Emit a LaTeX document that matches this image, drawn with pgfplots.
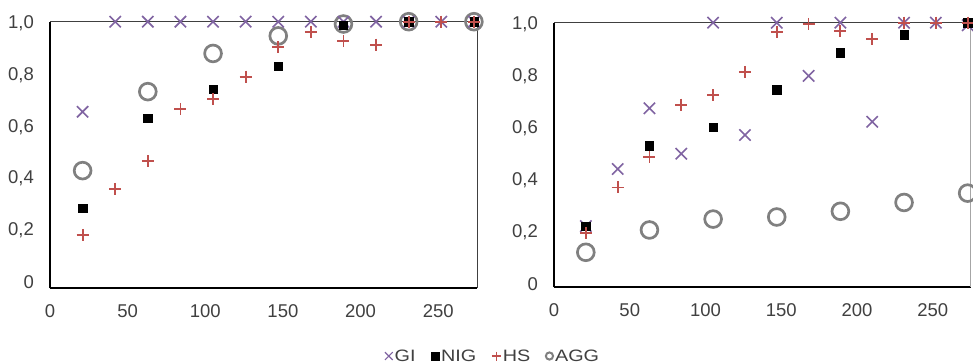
\documentclass[border=0pt]{standalone}
\usepackage{fontspec}
\setmainfont{Liberation Sans}
\usepackage{pgfplots}
\pgfplotsset{compat=1.18}
\definecolor{gi}{HTML}{8064A2}
\definecolor{hs}{HTML}{C0504D}
\definecolor{agg}{HTML}{808080}
\definecolor{txt}{HTML}{404040}

\pgfplotstableread{
x y
21 0.651
42 1.0
63 1.0
84 1.0
105 1.0
126 1.0
147 1.0
168 1.0
189 1.0
210 1.0
231 1.0
252 1.0
273 1.0
}\giA
\pgfplotstableread{
x y
21 0.277
63 0.627
105 0.738
147 0.827
189 0.986
231 1.0
273 1.0
}\nigA
\pgfplotstableread{
x y
21 0.174
42 0.352
63 0.459
84 0.662
105 0.700
126 0.787
147 0.901
168 0.959
189 0.925
210 0.911
231 1.0
252 1.0
273 1.0
}\hsA
\pgfplotstableread{
x y
21 0.423
63 0.729
105 0.877
147 0.945
189 0.991
231 1.0
273 1.0
}\aggA

\pgfplotstableread{
x y
21 0.216
42 0.436
63 0.670
84 0.495
105 1.0
126 0.567
147 1.0
168 0.795
189 1.0
210 0.618
231 1.0
252 1.0
273 0.99
}\giB
\pgfplotstableread{
x y
21 0.216
63 0.526
105 0.598
147 0.742
189 0.884
231 0.954
273 1.0
}\nigB
\pgfplotstableread{
x y
21 0.188
42 0.365
63 0.481
84 0.684
105 0.720
126 0.810
147 0.964
168 0.995
189 0.968
210 0.937
231 1.0
252 1.0
273 1.0
}\hsB
\pgfplotstableread{
x y
21 0.115
63 0.201
105 0.243
147 0.251
189 0.273
231 0.307
273 0.343
}\aggB

\pgfplotsset{
 panel/.style={
  scale only axis,
  xmin=0, xmax=275, ymax=1,
  axis x line*=bottom, axis y line*=left,
  axis line style={-, black, line width=2bp},
  xtick={0,50,100,150,200,250},
  ytick={0,0.2,0.4,0.6,0.8,1},
  yticklabels={0,{0,2},{0,4},{0,6},{0,8},{1,0}},
  major tick length=0pt,
  tick style={draw=none},
  tick label style={font=\fontsize{18.5bp}{22bp}\selectfont, text=txt},
  /pgf/number format/assume math mode=true,
  yticklabel style={anchor=east, inner sep=0pt, xshift=-16bp, yshift=-2bp},
  xticklabel style={anchor=north, inner sep=0pt, yshift=-16bp},
  clip=false,
 },
 gis/.style={only marks, mark=x, mark size=8bp, color=gi, line width=1.6bp,
   mark options={draw=gi, color=gi}},
 nigs/.style={only marks, mark=square*, mark size=4.2bp, color=black,
   mark options={draw=black, fill=black}},
 hss/.style={only marks, mark=+, mark size=6bp, color=hs, line width=1.8bp,
   mark options={draw=hs, color=hs}},
 aggs/.style={only marks, mark=o, mark size=8.4bp, color=agg, line width=2.7bp,
   mark options={draw=agg, fill=none}},
}

\begin{document}
\begin{tikzpicture}
\path[use as bounding box] (0,0) rectangle (973bp,364bp);

\begin{axis}[panel, at={(50bp,75.7bp)}, anchor=south west,
  width=427bp, height=266.6bp, ymin=-0.033,
  legend image code/.code={\draw[#1] plot coordinates {(0bp,0bp)};},
  legend style={at={(1.0375,-0.254)}, anchor=center, draw=none, fill=none,
    legend columns=4, font=\fontsize{16.5bp}{19bp}\selectfont, text=txt,
    nodes={inner xsep=2bp, inner ysep=0pt},
    /tikz/every even column/.append style={column sep=13.5bp}},
]
\addlegendimage{only marks, mark=x, mark size=5.5bp, gi, line width=1.2bp, mark options={draw=gi}}
\addlegendimage{only marks, mark=square*, mark size=4bp, black, mark options={draw=black, fill=black}}
\addlegendimage{only marks, mark=+, mark size=4.5bp, hs, line width=1.4bp, mark options={draw=hs}}
\addlegendimage{only marks, mark=o, mark size=3.6bp, agg, line width=2bp, mark options={draw=agg}}
\legend{\scalebox{1.2}[1]{GI},\scalebox{1.2}[1]{NIG},\scalebox{1.2}[1]{HS},\scalebox{1.2}[1]{AGG}}
\draw[line width=1bp, color=txt] (rel axis cs:0,1) -- (rel axis cs:1,1) -- (rel axis cs:1,0);
\addplot[aggs, forget plot] table {\aggA};
\addplot[gis, forget plot] table {\giA};
\addplot[nigs, forget plot] table {\nigA};
\addplot[hss, forget plot] table {\hsA};
\end{axis}

\begin{axis}[panel, at={(554bp,76.7bp)}, anchor=south west,
  width=416.7bp, height=264.6bp, ymin=-0.02]
\draw[line width=1bp, color=txt] (rel axis cs:0,1) -- (rel axis cs:1,1);
\draw[line width=1.2bp, color=black!35] (rel axis cs:1,1) -- (rel axis cs:1,0);
\addplot[aggs] table {\aggB};
\addplot[gis] table {\giB};
\addplot[nigs] table {\nigB};
\addplot[hss] table {\hsB};
\end{axis}
\end{tikzpicture}
\end{document}
